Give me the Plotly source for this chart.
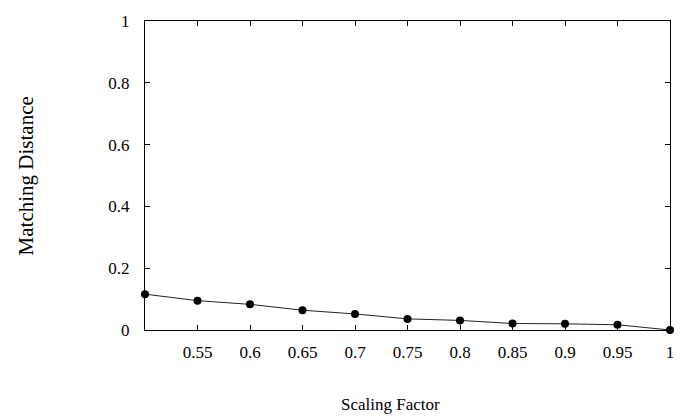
import plotly.graph_objects as go

scaling = [0.5, 0.55, 0.6, 0.65, 0.7, 0.75, 0.8, 0.85, 0.9, 0.95, 1.0]
distance = [0.116, 0.095, 0.083, 0.064, 0.052, 0.036, 0.031, 0.021, 0.020, 0.017, 0.0]
xticks = [0.55, 0.6, 0.65, 0.7, 0.75, 0.8, 0.85, 0.9, 0.95, 1.0]
xticklabels = ["0.55", "0.6", "0.65", "0.7", "0.75", "0.8", "0.85", "0.9", "0.95", "1"]
yticks = [0, 0.2, 0.4, 0.6, 0.8, 1.0]
yticklabels = ["0", "0.2", "0.4", "0.6", "0.8", "1"]

FONT = "Liberation Serif"

fig = go.Figure()
fig.add_trace(go.Scatter(
    x=scaling, y=distance, mode="lines+markers",
    line=dict(color="#222222", width=1),
    marker=dict(color="black", size=8),
    cliponaxis=False, showlegend=False,
))

fig.update_layout(
    width=686, height=418,
    margin=dict(l=145, r=12, t=15, b=88),
    paper_bgcolor="white", plot_bgcolor="white",
    font=dict(family=FONT, size=17, color="black"),
    xaxis=dict(range=[0.5, 1.0], tickvals=xticks, ticktext=xticklabels,
               ticks="inside", ticklen=5, tickwidth=1, tickcolor="black",
               showline=True, linecolor="black", linewidth=1, mirror="ticks",
               showgrid=False, zeroline=False, ticklabelstandoff=7,
               tickfont=dict(family=FONT, size=17)),
    yaxis=dict(range=[0, 1.0], tickvals=yticks, ticktext=yticklabels,
               ticks="inside", ticklen=5, tickwidth=1, tickcolor="black",
               showline=True, linecolor="black", linewidth=1, mirror="ticks",
               showgrid=False, zeroline=False, ticklabelstandoff=11,
               tickfont=dict(family=FONT, size=17)),
    annotations=[
        dict(text="Scaling Factor", xref="paper", yref="paper", x=0.467, y=-0.242,
             xanchor="center", yanchor="middle", showarrow=False,
             font=dict(family=FONT, size=17)),
        dict(text="Matching Distance", xref="paper", yref="paper", x=-0.2268, y=0.5,
             xanchor="center", yanchor="middle", showarrow=False, textangle=-90,
             font=dict(family=FONT, size=21)),
    ],
)

fig.write_html("out.html")
